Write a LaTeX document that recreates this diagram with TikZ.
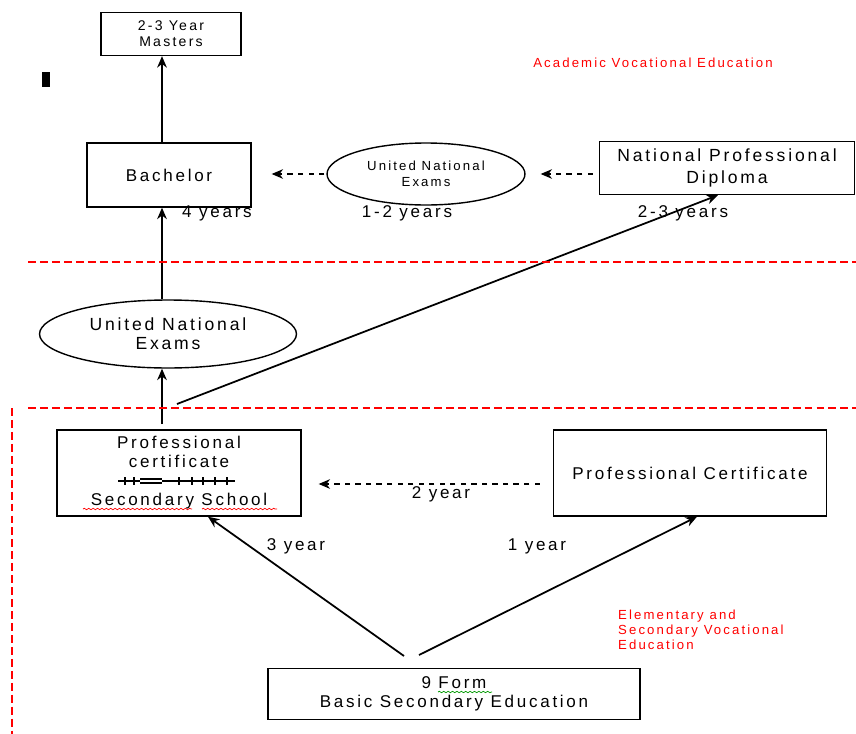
\documentclass[tikz,border=0pt]{standalone}
\usepackage{fontspec}
\setmainfont{Liberation Sans}[LetterSpace=16]
\usetikzlibrary{shapes.geometric,decorations.pathmorphing,arrows.meta}

\begin{document}
\begin{tikzpicture}[
        x=0.02cm, y=-0.02cm,
        box/.style={rectangle, draw, line width=0.8pt, align=center, inner sep=2pt, font=\fontsize{9.7}{10.8}\selectfont},
        exam/.style={ellipse, draw, line width=0.8pt, align=center, inner sep=0pt},
        years/.style={font=\fontsize{9.7}{10.8}\selectfont},
        level/.style={red, line width=0.6pt, dash pattern=on 4.5pt off 2.3pt},
        redtext/.style={red, font=\fontsize{7.5}{8.5}\selectfont, align=left},
        link/.style={->, line width=1pt},
        dashlink/.style={->, line width=0.6pt, dash pattern=on 3pt off 3pt},
        wavy/.style={decorate, decoration={snake, amplitude=0.4pt, segment length=2.5pt}, line width=0.4pt},
        >={Stealth[length=6.5pt, width=5.5pt]}
    ]
        \useasboundingbox (0,0) rectangle (856,734);

        % Academic level
        \node[box, minimum width=2.8cm, minimum height=0.86cm, font=\fontsize{8}{9}\selectfont] (masters) at (171,34) {2-3 Year\\Masters};
        \node[box, minimum width=3.28cm, minimum height=1.28cm] (bachelor) at (169,175) {Bachelor};
        \node[exam, minimum width=3.96cm, minimum height=1.24cm, font=\fontsize{7.5}{9}\selectfont] (une-top) at (426,174) {United National\\Exams};
        \node[box, minimum width=5.1cm, minimum height=1.06cm, font=\fontsize{10}{12.5}\selectfont] (diploma) at (727,168) {National Professional\\Diploma};
        \fill (42,72) rectangle (50,87);

        % Secondary level
        \node[exam, minimum width=5.14cm, minimum height=1.36cm, font=\fontsize{10}{11}\selectfont] (une-low) at (168,334) {United National\\Exams};
        \node[box, minimum width=4.88cm, minimum height=1.72cm] (school) at (179,473) {Professional\\certificate\\\strut\\Secondary School};
        \node[box, minimum width=5.46cm, minimum height=1.72cm] (profcert) at (690,473) {Professional Certificate};
        \node[box, minimum width=7.44cm, minimum height=1.02cm] (form) at (454,694) {9 Form\\Basic Secondary Education};

        % Start points
        \coordinate (spine) at (162,424);
        \coordinate (fork) at (177,404);
        \coordinate (up-left) at (404,656);
        \coordinate (up-right) at (419,655);

        % Connections
        \draw[link] (spine) -- (spine |- une-low.south);
        \draw[link] (une-low.north -| spine) -- (bachelor.south -| spine);
        \draw[link] (bachelor.north -| spine) -- (masters.south -| spine);
        \draw[link] (fork) -- ([xshift=-0.18cm]diploma.south);
        \draw[dashlink, shorten <=0.04cm, shorten >=0.4cm] (une-top.west) -- (une-top.west -| bachelor.east);
        \draw[dashlink, shorten <=0.12cm, shorten >=0.3cm] (diploma.west |- une-top.east) -- (une-top.east);
        \draw[dashlink, shorten <=0.26cm, shorten >=0.34cm] ([yshift=-0.22cm]profcert.west) -- ([yshift=-0.22cm]profcert.west -| school.east);
        \draw[link] (up-left) -- ([xshift=0.58cm]school.south);
        \draw[link] (up-right) -- ([xshift=0.14cm]profcert.south);

        % Tick line in the school box
        \draw[line width=0.6pt] (118,481) -- (140,481) (162,481) -- (235,481);
        \draw[line width=0.6pt] (140,479) -- (162,479) (140,483) -- (162,483);
        \foreach \t in {125,134,179,192,203,215,227}
            \draw[line width=0.6pt] (\t,477) -- (\t,485);

        % Spelling marks
        \draw[wavy, red] (83,509) -- (192,509);
        \draw[wavy, red] (202,509) -- (277,509);
        \draw[wavy, green!60!black] (438,692) -- (492,692);

        % Year labels
        \node[years, anchor=west] (y-bachelor) at (176,213) {4 years};
        \node[years] (y-exams) at (407,213) {1-2 years};
        \node[years] (y-diploma) at (683,213) {2-3 years};
        \node[years] (y-two) at (441,494) {2 year};
        \node[years] (y-three) at (296,546) {3 year};
        \node[years] (y-one) at (537,546) {1 year};

        % Levels
        \draw[level] (28,262) -- (856,262);
        \draw[level] (28,408) -- (856,408);
        \draw[level] (12,408) -- (12,734);
        \node[redtext] (academic) at (653,63) {Academic Vocational Education};
        \node[redtext, anchor=north west] (vocational) at (612,604) {Elementary and\\Secondary Vocational\\Education};
    \end{tikzpicture}
\end{document}
